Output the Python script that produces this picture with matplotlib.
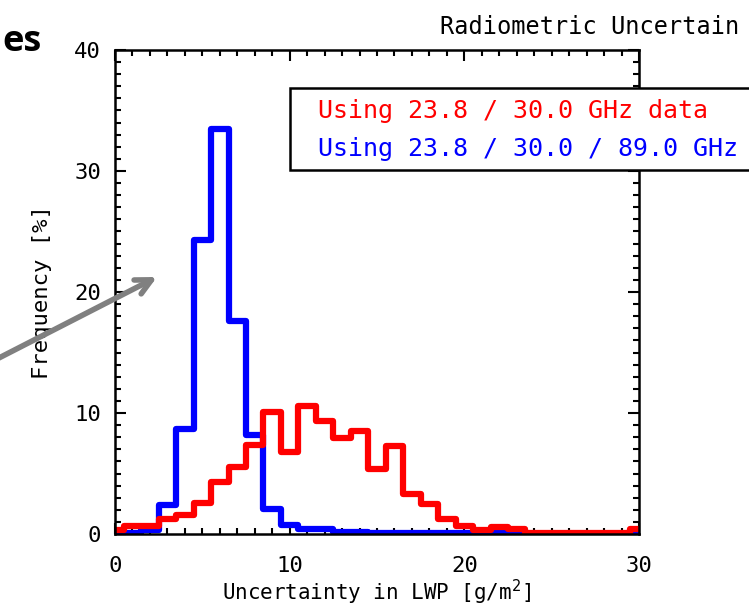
import numpy as np
import matplotlib
matplotlib.use("Agg")
import matplotlib.pyplot as plt
from matplotlib.patches import Rectangle
from matplotlib.ticker import MultipleLocator

# histogram values (percent per 1 g/m2 bin)
lwp_bins = np.arange(0, 31)
freq_2ch = [0.3, 0.7, 0.7, 1.2, 1.6, 2.6, 4.3, 5.5, 7.35, 10.1, 6.8, 10.6, 9.3, 7.9, 8.5, 5.4,
            7.3, 3.3, 2.5, 1.24, 0.66, 0.33, 0.55, 0.41, 0.1, 0.1, 0.1, 0.1, 0.1, 0.1, 0.4]
freq_3ch = [0.1, 0.1, 0.3, 2.4, 8.65, 24.3, 33.5, 17.6, 8.2, 2.1, 0.74, 0.45, 0.45, 0.2, 0.2, 0.1,
            0.1, 0.1, 0.1, 0.1, 0.1, 0.1, 0.2, 0.1, 0, 0, 0, 0, 0, 0, 0]
label_2ch = "Using 23.8 / 30.0 GHz data"
label_3ch = "Using 23.8 / 30.0 / 89.0 GHz"

# IDL-ish wide plot font
plt.rcParams['font.family'] = ['DejaVu Sans Mono', 'DejaVu Sans']
plt.rcParams['mathtext.fontset'] = 'dejavusans'

W, H = 749, 611
fig = plt.figure(figsize=(W / 100, H / 100), dpi=100)
ax = fig.add_axes([115 / W, 1 - 534 / H, (639 - 115) / W, (534 - 50) / H])

ax.step(lwp_bins, freq_3ch, where='mid', color='#0000ff', lw=4.5)
ax.step(lwp_bins, freq_2ch, where='mid', color='#ff0000', lw=4.5)

ax.set_xlim(0, 30)
ax.set_ylim(0, 40)
ax.xaxis.set_major_locator(MultipleLocator(10))
ax.xaxis.set_minor_locator(MultipleLocator(1))
ax.yaxis.set_major_locator(MultipleLocator(10))
ax.yaxis.set_minor_locator(MultipleLocator(1))
ax.tick_params(which='both', direction='in', top=True, right=True, width=1.5, colors='black')
ax.tick_params(which='major', length=8, labelsize=16)
ax.tick_params(axis='x', which='major', pad=16)
ax.tick_params(axis='y', which='major', pad=10)
ax.tick_params(which='minor', length=4)
for s in ax.spines.values():
    s.set_linewidth(1.8)

ax.set_xlabel("Uncertainty in LWP [g/m$^2$]", fontsize=15, labelpad=1)
ax.set_ylabel("Frequency [%]", fontsize=16, labelpad=16)

# legend box, runs past the right edge of the crop
fig.patches.append(Rectangle((290 / W, 1 - 170 / H), 480 / W, 82 / H, transform=fig.transFigure,
                             facecolor='white', edgecolor='black', lw=1.8, zorder=5))
fig.text(318 / W, 1 - 111 / H, label_2ch, color='#ff0000', fontsize=18, va='center', zorder=6)
fig.text(318 / W, 1 - 149 / H, label_3ch, color='#0000ff', fontsize=18, va='center', zorder=6)

fig.text(440 / W, 1 - 27 / H, "Radiometric Uncertain", fontsize=17, va='center')
fig.text(2 / W, 1 - 42 / H, "es", fontsize=26, fontweight='bold', va='center',
         family='Open Sans')

# gray arrow from the slide
fig.add_artist(plt.Annotation("", xy=(157 / W, 1 - 277 / H), xycoords='figure fraction',
                              xytext=(-5 / W, 1 - 360 / H), textcoords='figure fraction',
                              arrowprops=dict(arrowstyle='->', color='#808080', lw=4,
                                              mutation_scale=28, shrinkA=0, shrinkB=0)))

fig.savefig("out.png", dpi=100)
